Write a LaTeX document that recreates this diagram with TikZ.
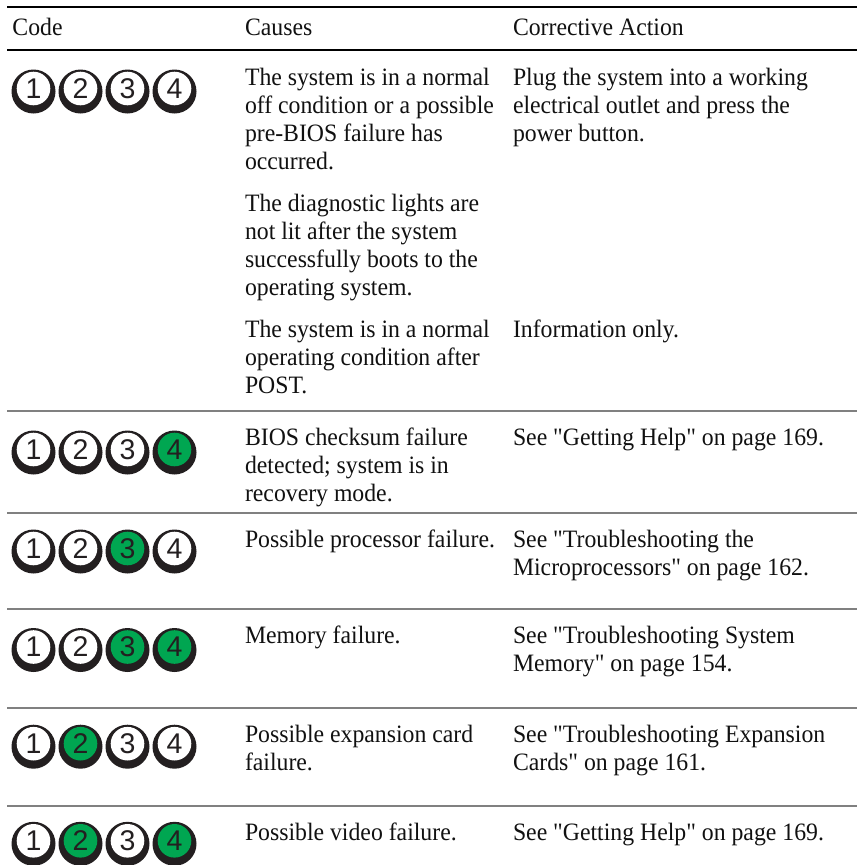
\documentclass[tikz,border=0pt]{standalone}
\usepackage{fontspec}
\setmainfont{Liberation Serif}[FakeStretch=0.95]
\newfontfamily\quotefont{Liberation Serif}[FakeStretch=0.95]
\newfontfamily\digitfont{Liberation Sans}
\newcommand\dq{{\quotefont"}}
\definecolor{ledgreen}{HTML}{00A651}
\definecolor{ringblack}{HTML}{231F20}
\definecolor{rulegray}{HTML}{808080}
\definecolor{inkblack}{HTML}{111111}
\newcommand\cellbox[1]{\parbox[t]{340pt}{\fontsize{25}{28}\selectfont\raggedright #1}}
\newcommand\ledicon[5]{%
  \fill[ringblack] (#2,#3) circle[radius=22];
  \fill[#5] (#2,#3-3) circle[radius=16.8];
  \node[digitnode] (#1) at (#2,#3-3.3) {#4};
}
\newcommand\ledrow[6]{% prefix, y, fill1..4
  \ledicon{#1a}{33.5}{#2}{1}{#3}
  \ledicon{#1b}{80.5}{#2}{2}{#4}
  \ledicon{#1c}{127.5}{#2}{3}{#5}
  \ledicon{#1d}{174.5}{#2}{4}{#6}
}
\begin{document}
\begin{tikzpicture}[x=1pt,y=-1pt,
  txt/.style={anchor=base west, inner sep=0pt, outer sep=0pt, text=inkblack},
  digitnode/.style={inner sep=0pt, text=ringblack, font=\digitfont\fontsize{28.5}{28.5}\selectfont},
  blackrule/.style={draw=black, line width=2pt},
  grayrule/.style={draw=rulegray, line width=2pt}]
\useasboundingbox (0,0) rectangle (857,865);
\fill[white] (0,0) rectangle (857,865);
% rules
\coordinate (r0l) at (7,7);   \coordinate (r0r) at (857,7);
\coordinate (r1l) at (7,50);  \coordinate (r1r) at (857,50);
\coordinate (r2l) at (7,411); \coordinate (r2r) at (857,411);
\coordinate (r3l) at (7,513); \coordinate (r3r) at (857,513);
\coordinate (r4l) at (7,609); \coordinate (r4r) at (857,609);
\coordinate (r5l) at (7,708); \coordinate (r5r) at (857,708);
\coordinate (r6l) at (7,806); \coordinate (r6r) at (857,806);
\draw[blackrule] (r0l) -- (r0r);
\draw[blackrule] (r1l) -- (r1r);
\draw[grayrule] (r2l) -- (r2r);
\draw[grayrule] (r3l) -- (r3r);
\draw[grayrule] (r4l) -- (r4r);
\draw[grayrule] (r5l) -- (r5r);
\draw[grayrule] (r6l) -- (r6r);
% header
\node[txt] (hcode) at (12.5,35) {\cellbox{Code}};
\node[txt] (hcause) at (245,35) {\cellbox{Causes}};
\node[txt] (haction) at (513,35) {\cellbox{Corrective Action}};
% row 1
\ledrow{a}{91.5}{white}{white}{white}{white}
\node[txt] (c1a) at (245,85) {\cellbox{The system is in a normal\\off condition or a possible\\pre-BIOS failure has\\occurred.}};
\node[txt] (c1b) at (245,211) {\cellbox{The diagnostic lights are\\not lit after the system\\successfully boots to the\\operating system.}};
\node[txt] (c1c) at (245,337) {\cellbox{The system is in a normal\\operating condition after\\POST.}};
\node[txt] (a1a) at (513,85) {\cellbox{Plug the system into a working\\electrical outlet and press the\\power button.}};
\node[txt] (a1c) at (513,337) {\cellbox{Information only.}};
% row 2
\ledrow{b}{452.5}{white}{white}{white}{ledgreen}
\node[txt] (c2) at (245,445) {\cellbox{BIOS checksum failure\\detected; system is in\\recovery mode.}};
\node[txt] (a2) at (513,445) {\cellbox{See \dq Getting Help\dq{} on page 169.}};
% row 3
\ledrow{c}{551.5}{white}{white}{ledgreen}{white}
\node[txt] (c3) at (245,547) {\cellbox{Possible processor failure.}};
\node[txt] (a3) at (513,547) {\cellbox{See \dq Troubleshooting the\\Microprocessors\dq{} on page 162.}};
% row 4
\ledrow{d}{650}{white}{white}{ledgreen}{ledgreen}
\node[txt] (c4) at (245,643) {\cellbox{Memory failure.}};
\node[txt] (a4) at (513,643) {\cellbox{See \dq Troubleshooting System\\Memory\dq{} on page 154.}};
% row 5
\ledrow{e}{746.7}{white}{ledgreen}{white}{white}
\node[txt] (c5) at (245,742) {\cellbox{Possible expansion card\\failure.}};
\node[txt] (a5) at (513,742) {\cellbox{See \dq Troubleshooting Expansion\\Cards\dq{} on page 161.}};
% row 6
\ledrow{f}{843.8}{white}{ledgreen}{white}{ledgreen}
\node[txt] (c6) at (245,840) {\cellbox{Possible video failure.}};
\node[txt] (a6) at (513,840) {\cellbox{See \dq Getting Help\dq{} on page 169.}};
\end{tikzpicture}
\end{document}
